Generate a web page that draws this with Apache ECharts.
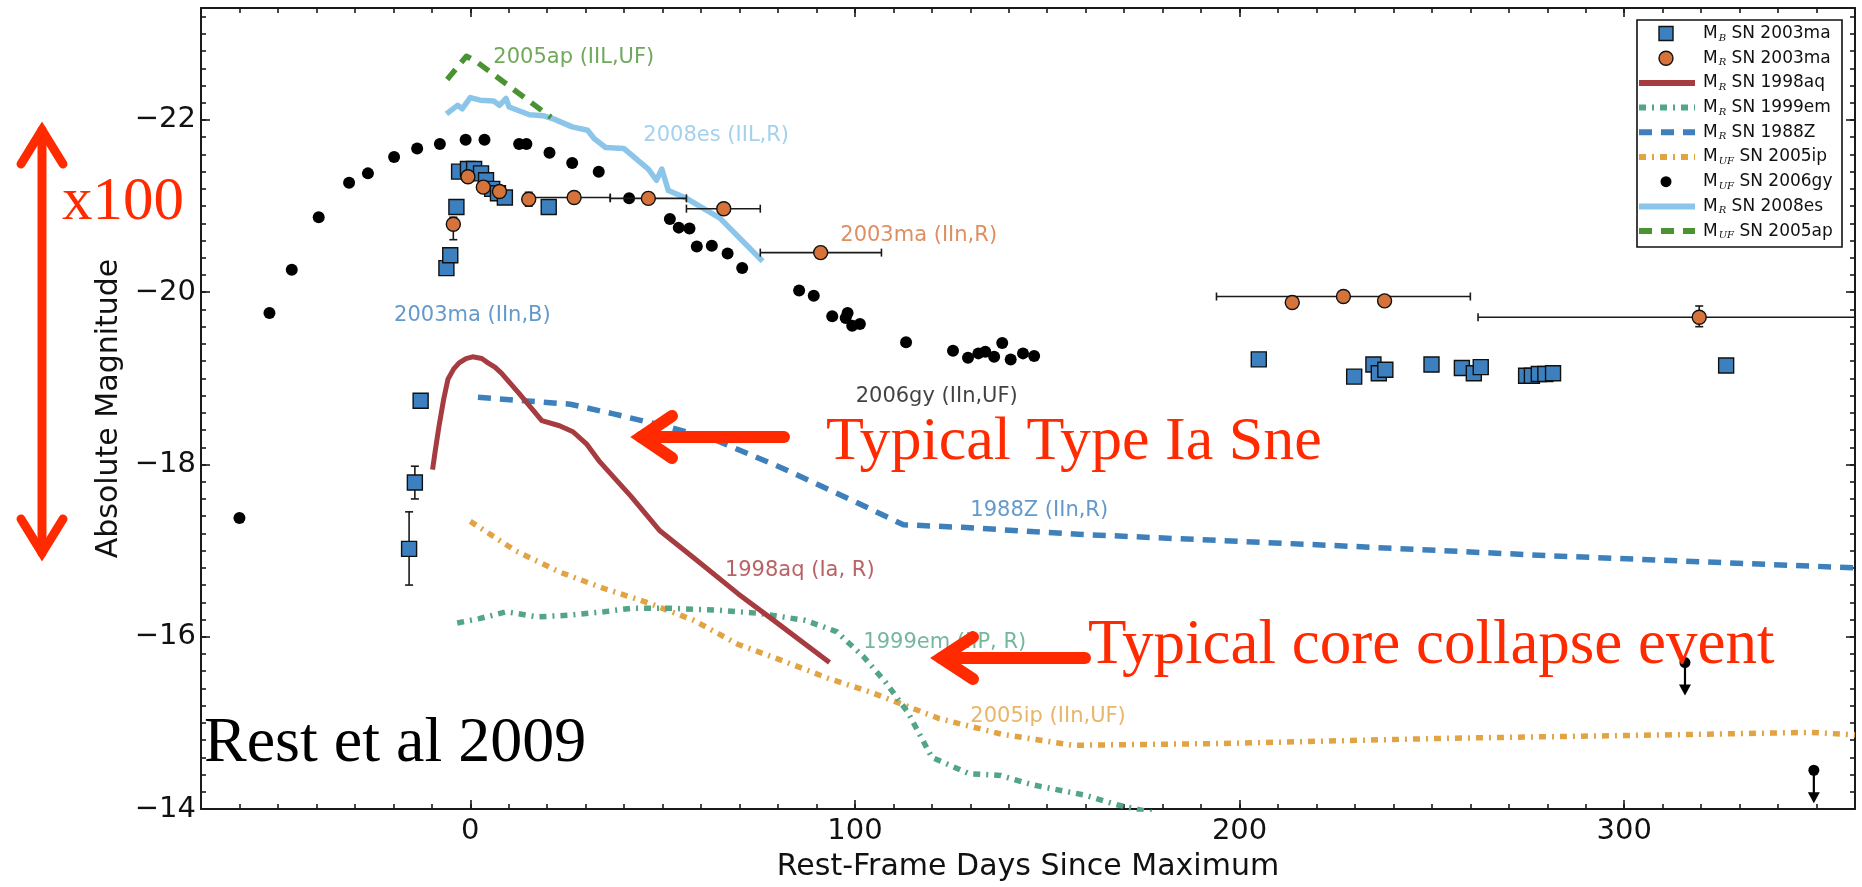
<!DOCTYPE html>
<html><head><meta charset="utf-8">
<script src="https://cdn.jsdelivr.net/npm/echarts@6/dist/echarts.min.js"></script>
<style>html,body{margin:0;padding:0;background:#fff}#c{width:1862px;height:887px}</style>
</head><body><div id="c"></div>
<script>
// ---------------- data ----------------
const xRange = [-70, 360];
const yRange = [-23.3, -14];
const xMajorTicks = [0, 100, 200, 300];
const xMinorTicks = [-60,-50,-40,-30,-20,-10,0,10,20,30,40,50,60,70,80,90,100,110,120,130,140,150,160,170,180,190,200,210,220,230,240,250,260,270,280,290,300,310,320,330,340,350];
const yMajorTicks = [-22, -20, -18, -16, -14];
const yTickLabels = ['\u221222', '\u221220', '\u221218', '\u221216', '\u221214'];

const sn2006gy = [[-60,-17.38],[-52.2,-19.76],[-46.4,-20.26],[-39.4,-20.87],[-31.5,-21.27],[-26.6,-21.38],[-19.8,-21.57],[-13.8,-21.67],[-7.9,-21.72],[-1.2,-21.77],[3.7,-21.77],[12.7,-21.72],[14.6,-21.72],[20.6,-21.62],[26.5,-21.50],[33.4,-21.40],[41.3,-21.09],[51.9,-20.85],[54.2,-20.75],[57,-20.74],[58.9,-20.53],[62.8,-20.54],[66.9,-20.45],[70.7,-20.28],[85.5,-20.02],[89.3,-19.96],[94.1,-19.72],[97.6,-19.70],[98.1,-19.76],[99.3,-19.61],[101.3,-19.63],[113.3,-19.42],[125.5,-19.32],[129.4,-19.24],[132.1,-19.29],[133.9,-19.31],[136.2,-19.25],[138.3,-19.41],[140.5,-19.22],[143.7,-19.29],[146.6,-19.26]];
const sn2006gyLimits = [[315.8,-15.70],[349.3,-14.45]];

const sn2003maB = [[-15.9,-17.02],[-14.4,-17.79],[-12.9,-18.74],[-6.2,-20.28],[-5.2,-20.43],[-3.6,-20.99],[-2.9,-21.40],[-0.6,-21.43],[1.0,-21.43],[2.8,-21.38],[4.1,-21.30],[5.7,-21.20],[7.2,-21.15],[9.0,-21.10],[20.4,-20.99],[205,-19.22],[229.8,-19.02],[234.8,-19.16],[236.2,-19.06],[237.9,-19.10],[249.9,-19.16],[257.8,-19.12],[260.9,-19.06],[262.7,-19.13],[274.5,-19.03],[276,-19.03],[277.8,-19.05],[279.5,-19.05],[281.5,-19.06],[326.5,-19.15]];
const sn2003maBYerr = [[-15.9,-17.45,-16.60],[-14.4,-17.98,-17.60]];

const sn2003maR = [[-4.4,-20.79],[-0.6,-21.34],[3.4,-21.22],[7.6,-21.17],[15.2,-21.08],[27.0,-21.10],[46.3,-21.09],[65.9,-20.97],[91.1,-20.46],[213.7,-19.88],[227,-19.95],[237.7,-19.90],[319.5,-19.71]];
const sn2003maRYerr = [[-4.4,-20.87,-20.61],[15.2,-21.16,-21.00],[319.5,-19.84,-19.60]];
const sn2003maRXerr = [[-21.10,15.5,36.4],[-21.09,36.4,56.2],[-20.97,56.2,75.4],[-20.46,75.4,106.9],[-19.95,194,260],[-19.71,262,380]];

const sn1998aq = [[-9.8,-17.94],[-9.0,-18.19],[-8.1,-18.45],[-6.9,-18.76],[-5.8,-18.99],[-4.3,-19.11],[-2.9,-19.18],[-1.1,-19.23],[0.6,-19.25],[3.0,-19.23],[4.6,-19.18],[6.4,-19.13],[8.1,-19.06],[12.8,-18.82],[18.6,-18.51],[23.2,-18.45],[26.7,-18.38],[30.2,-18.24],[33.7,-18.03],[41.8,-17.63],[49.3,-17.23],[58,-16.92],[69.6,-16.50],[78.9,-16.19],[93.4,-15.70]];
const sn1999em = [[-3.4,-16.16],[2.3,-16.21],[9.4,-16.29],[17.4,-16.23],[25.6,-16.25],[34.8,-16.29],[41.8,-16.33],[52.2,-16.33],[63.9,-16.31],[75.5,-16.27],[87.1,-16.19],[95.2,-16.06],[102.2,-15.77],[108,-15.47],[113.8,-15.12],[120,-14.60],[129.7,-14.41],[137.9,-14.39],[146.2,-14.28],[159.9,-14.16],[168.1,-14.05],[178,-13.95]];
const sn1988Z = [[2,-18.78],[14,-18.74],[26,-18.70],[37,-18.59],[52,-18.43],[64,-18.28],[81,-17.96],[99,-17.59],[112.6,-17.30],[128,-17.27],[158,-17.19],[224,-17.06],[281,-16.94],[360,-16.80]];
const sn2005ip = [[0,-17.34],[11.7,-17.0],[23.3,-16.75],[34.8,-16.56],[46.5,-16.39],[58.1,-16.19],[69.7,-15.91],[81.3,-15.72],[92.9,-15.52],[104.5,-15.35],[121.9,-15.05],[138,-14.87],[156.6,-14.74],[195,-14.76],[252.6,-14.82],[310,-14.86],[348.6,-14.89],[360,-14.86]];
const sn2008es = [[-6.2,-22.07],[-3.3,-22.17],[-2.1,-22.13],[0,-22.26],[2.6,-22.23],[6.1,-22.22],[7.6,-22.17],[9.3,-22.25],[10.1,-22.15],[15.4,-22.06],[18.9,-22.05],[21.8,-22.01],[26.5,-21.92],[30.5,-21.88],[32.3,-21.78],[35.2,-21.68],[39.9,-21.67],[46.3,-21.43],[48.4,-21.30],[49.8,-21.43],[51.5,-21.18],[56.2,-21.09],[64.9,-20.86],[76,-20.36]];
const sn2005ap = [[-6,-22.47],[-1,-22.74],[1.5,-22.68],[21,-22.03]];

const curveLabels = ['2005ap (IIL,UF)','2008es (IIL,R)','2003ma (IIn,B)','2003ma (IIn,R)','2006gy (IIn,UF)','1988Z (IIn,R)','1998aq (Ia, R)','1999em (IIP, R)','2005ip (IIn,UF)'];
const curveLabelPos = [[6.0,-22.72],[45,-21.82],[-19.8,-19.73],[96.2,-20.66],[100.2,-18.79],[130,-17.46],[66.2,-16.77],[102.2,-15.93],[130,-15.07]];

const legendSubs = ['B','R','R','R','R','UF','UF','R','UF'];
const legendNames = ['SN 2003ma','SN 2003ma','SN 1998aq','SN 1999em','SN 1988Z','SN 2005ip','SN 2006gy','SN 2008es','SN 2005ap'];

// ---------------- styles ----------------
const C = {
  B:'#3d80bf', R:'#d5733a', aq:'#a63b40', em:'#52a585', Z:'#3d80bc',
  ip:'#e2a343', gy:'#000000', es:'#8cc5ea', ap:'#4b9232'
};
const labelColors = [C.ap, C.es, C.B, C.R, '#111', C.Z, C.aq, C.em, C.ip];
const legendKinds = [
  {k:'rect', c:C.B}, {k:'circle', c:C.R}, {k:'line', c:C.aq, d:null},
  {k:'line', c:C.em, d:[7,6,2,6]}, {k:'line', c:C.Z, d:[13,9]},
  {k:'line', c:C.ip, d:[7,6,2,6]}, {k:'dot', c:'#000'},
  {k:'line', c:C.es, d:null}, {k:'line', c:C.ap, d:[13,9]}
];

const FONT = 'DejaVu Sans';
const SERIF = 'Liberation Serif';
const RED = '#ff2a00';

function axisBase(extra) {
  return Object.assign({
    type:'value', splitLine:{show:false}, axisLine:{show:false, onZero:false},
    axisLabel:{show:false}, axisTick:{show:false}
  }, extra);
}
const lineAxis = {show:true, onZero:false, lineStyle:{color:'#1a1a1a', width:2}};
function ticks(vals, len) {
  return {show:true, inside:true, length:len, customValues:vals, lineStyle:{color:'#1a1a1a', width:1.6}};
}
const yMinor = [];
for (let k = -116; k <= -70; k++) yMinor.push(Math.round(k*2)/10);

const xAxes = [
  axisBase({position:'bottom', min:xRange[0], max:xRange[1], axisLine:lineAxis,
    axisTick:ticks(xMinorTicks,5),
    axisLabel:{show:true, customValues:xMajorTicks, fontSize:29, fontFamily:FONT, color:'#111', margin:8},
    name:'Rest-Frame Days Since Maximum', nameLocation:'middle', nameGap:43,
    nameTextStyle:{fontSize:30, fontFamily:FONT, color:'#111'}}),
  axisBase({position:'bottom', min:xRange[0], max:xRange[1], axisTick:ticks(xMajorTicks,9)}),
  axisBase({position:'top', min:xRange[0], max:xRange[1], axisLine:lineAxis, axisTick:ticks(xMinorTicks,5)}),
  axisBase({position:'top', min:xRange[0], max:xRange[1], axisTick:ticks(xMajorTicks,9)})
];
const yAxes = [
  axisBase({position:'left', inverse:true, min:yRange[0], max:yRange[1], axisLine:lineAxis,
    axisTick:ticks(yMinor,5),
    axisLabel:{show:true, customValues:yMajorTicks, fontSize:29, fontFamily:FONT, color:'#111', margin:5,
      formatter:(v)=>yTickLabels[yMajorTicks.indexOf(Math.round(v))] || ''},
    name:'Absolute Magnitude', nameLocation:'middle', nameGap:76,
    nameTextStyle:{fontSize:30, fontFamily:FONT, color:'#111'}}),
  axisBase({position:'left', inverse:true, min:yRange[0], max:yRange[1], axisTick:ticks(yMajorTicks,9)}),
  axisBase({position:'right', inverse:true, min:yRange[0], max:yRange[1], axisLine:lineAxis, axisTick:ticks(yMinor,5)}),
  axisBase({position:'right', inverse:true, min:yRange[0], max:yRange[1], axisTick:ticks(yMajorTicks,9)})
];

const ebStyle = {stroke:'#1a1a1a', lineWidth:1.6};
function renderYerr(params, api) {
  const x = api.value(0), a = api.coord([x, api.value(1)]), b = api.coord([x, api.value(2)]);
  const cap = 4;
  return {type:'group', children:[
    {type:'line', shape:{x1:a[0],y1:a[1],x2:b[0],y2:b[1]}, style:ebStyle},
    {type:'line', shape:{x1:a[0]-cap,y1:a[1],x2:a[0]+cap,y2:a[1]}, style:ebStyle},
    {type:'line', shape:{x1:b[0]-cap,y1:b[1],x2:b[0]+cap,y2:b[1]}, style:ebStyle}]};
}
function renderXerr(params, api) {
  const y = api.value(0), a = api.coord([api.value(1), y]), b = api.coord([api.value(2), y]);
  const cap = 4;
  return {type:'group', children:[
    {type:'line', shape:{x1:a[0],y1:a[1],x2:b[0],y2:b[1]}, style:ebStyle},
    {type:'line', shape:{x1:a[0],y1:a[1]-cap,x2:a[0],y2:a[1]+cap}, style:ebStyle},
    {type:'line', shape:{x1:b[0],y1:b[1]-cap,x2:b[0],y2:b[1]+cap}, style:ebStyle}]};
}
function renderLimit(params, api) {
  const p = api.coord([api.value(0), api.value(1)]);
  const L = 33;
  return {type:'group', children:[
    {type:'line', shape:{x1:p[0],y1:p[1],x2:p[0],y2:p[1]+L-6}, style:{stroke:'#000', lineWidth:2.2}},
    {type:'polygon', shape:{points:[[p[0]-6,p[1]+L-11],[p[0]+6,p[1]+L-11],[p[0],p[1]+L]]}, style:{fill:'#000'}},
    {type:'circle', shape:{cx:p[0], cy:p[1], r:5.5}, style:{fill:'#000'}}]};
}

function lineSeries(name, data, color, dash, width, z) {
  return {type:'line', name, data, showSymbol:false, symbol:'none', z:z||2, clip:true,
    lineStyle:{color, width:width||5.5, type:dash||'solid', cap:'butt', join:'round'}, silent:true, animation:false};
}

const series = [
  lineSeries('M_R SN 1988Z', sn1988Z, C.Z, [13,9], 5.5, 2),
  lineSeries('M_UF SN 2005ip', sn2005ip, C.ip, [7,6,2,6], 5.5, 2),
  lineSeries('M_R SN 1999em', sn1999em, C.em, [7,6,2,6], 5.5, 2),
  lineSeries('M_R SN 1998aq', sn1998aq, C.aq, null, 5, 3),
  {type:'scatter', name:'M_UF SN 2006gy', data:sn2006gy, symbol:'circle', symbolSize:12,
    itemStyle:{color:'#000', opacity:1}, z:4, animation:false, silent:true},
  {type:'custom', name:'limits', data:sn2006gyLimits, renderItem:renderLimit, clip:true, z:4, animation:false, silent:true},
  lineSeries('M_R SN 2008es', sn2008es, C.es, null, 5.5, 5),
  lineSeries('M_UF SN 2005ap', sn2005ap, C.ap, [13,9], 5.5, 5),
  {type:'custom', name:'errB', data:sn2003maBYerr, renderItem:renderYerr, clip:true, z:6, animation:false, silent:true},
  {type:'scatter', name:'M_B SN 2003ma', data:sn2003maB, symbol:'rect', symbolSize:15,
    itemStyle:{color:C.B, borderColor:'#111', borderWidth:1.4, opacity:1}, z:7, animation:false, silent:true},
  {type:'custom', name:'errRy', data:sn2003maRYerr, renderItem:renderYerr, clip:true, z:8, animation:false, silent:true},
  {type:'custom', name:'errRx', data:sn2003maRXerr, renderItem:renderXerr, clip:true, z:8, animation:false, silent:true},
  {type:'scatter', name:'M_R SN 2003ma', data:sn2003maR, symbol:'circle', symbolSize:14,
    itemStyle:{color:C.R, borderColor:'#111', borderWidth:1.4, opacity:1}, z:9, animation:false, silent:true},
  {type:'scatter', name:'labels', symbolSize:0, z:10, animation:false, silent:true,
    data: curveLabels.map((t,i)=>({name:t, value:curveLabelPos[i],
      label:{show:true, formatter:'{b}', position:[0,0], align:'left', verticalAlign:'middle',
        fontSize:21, fontFamily:FONT, color:labelColors[i]}}))}
];

// ---------------- overlays (legend + red annotations) ----------------
const graphics = [];
const LX0 = 1637, LY0 = 20, LX1 = 1842, LY1 = 247;
graphics.push({type:'rect', shape:{x:LX0, y:LY0, width:LX1-LX0, height:LY1-LY0},
  style:{fill:'#fff', stroke:'#111', lineWidth:1.6}, z:100});
legendKinds.forEach((it, i) => {
  const cy = 33.5 + i*24.7;
  if (it.k === 'line') {
    graphics.push({type:'line', shape:{x1:LX0+2, y1:cy, x2:LX0+58, y2:cy},
      style:{stroke:it.c, lineWidth:6, lineDash:it.d || null, lineCap:'butt'}, z:101});
  } else if (it.k === 'rect') {
    graphics.push({type:'rect', shape:{x:1666-7, y:cy-7, width:14, height:14},
      style:{fill:it.c, stroke:'#111', lineWidth:1.4}, z:101});
  } else if (it.k === 'circle') {
    graphics.push({type:'circle', shape:{cx:1666, cy, r:7}, style:{fill:it.c, stroke:'#111', lineWidth:1.4}, z:101});
  } else {
    graphics.push({type:'circle', shape:{cx:1666, cy, r:5.5}, style:{fill:'#000'}, z:101});
  }
  graphics.push({type:'text', x:1703, y:cy, z:101, style:{
    text:'{m|M}{s|' + legendSubs[i] + '}{n| ' + legendNames[i] + '}',
    verticalAlign:'middle', textVerticalAlign:'middle', align:'left', textAlign:'left',
    rich:{
      m:{fontSize:17, fontFamily:FONT, fill:'#111', color:'#111'},
      s:{fontSize:10, fontFamily:'DejaVu Serif', fontStyle:'italic', fill:'#111', color:'#111', padding:[9,0,0,1]},
      n:{fontSize:17, fontFamily:FONT, fill:'#111', color:'#111'}
    }}});
});

function redLine(pts, w) {
  return {type:'polyline', shape:{points:pts}, style:{stroke:RED, lineWidth:w, lineCap:'round', lineJoin:'miter', fill:null}, z:110};
}
// double arrow on the left
graphics.push(redLine([[42,130],[42,553]], 9));
graphics.push(redLine([[21,164],[42,130],[63,164]], 9));
graphics.push(redLine([[21,519],[42,553],[63,519]], 9));
// Type Ia arrow
graphics.push(redLine([[641,437],[784,437]], 12));
graphics.push(redLine([[672,416],[641,437],[672,458]], 12));
// core collapse arrow
graphics.push(redLine([[941,658],[1085,658]], 12));
graphics.push(redLine([[973,637],[941,658],[973,679]], 12));

function bigText(t, x, y, size, color) {
  return {type:'text', x, y, z:110, style:{text:t, fontSize:size, fontFamily:SERIF, fill:color,
    align:'left', textAlign:'left', verticalAlign:'middle', textVerticalAlign:'middle'}};
}
graphics.push(bigText('x100', 62, 203, 61, RED));
graphics.push(bigText('Typical Type Ia Sne', 826, 443, 62, RED));
graphics.push(bigText('Typical core collapse event', 1088, 646, 63, RED));
graphics.push(bigText('Rest et al 2009', 204, 744, 64, '#000'));

const chart = echarts.init(document.getElementById('c'));
chart.setOption({
  animation:false,
  backgroundColor:'#fff',
  grid:{left:201, right:7, top:8, bottom:69, containLabel:false},
  xAxis:xAxes, yAxis:yAxes, series, graphic:graphics
});
</script></body></html>
